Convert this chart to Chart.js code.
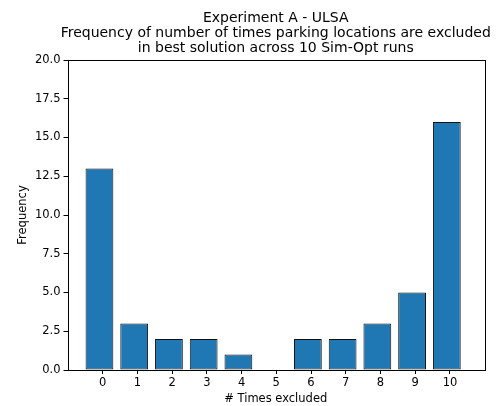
<!DOCTYPE html>
<html>
<head>
<meta charset="utf-8">
<script src="https://cdn.jsdelivr.net/npm/chart.js@4.4.0/dist/chart.umd.min.js"></script>
<style>
  html, body { margin: 0; padding: 0; background: #fff; }
  #wrap { width: 499px; height: 406px; }
</style>
</head>
<body>
<div id="wrap"><canvas id="grafico"></canvas></div>
<script>
const timesExcluded = [0, 1, 2, 3, 4, 5, 6, 7, 8, 9, 10];
const frequency = [13, 3, 2, 2, 1, 0, 2, 2, 3, 5, 16];
const yTicks = [0, 2.5, 5, 7.5, 10, 12.5, 15, 17.5, 20];
const titleLines = ['Experiment A - ULSA',
                    'Frequency of number of times parking locations are excluded',
                    'in best solution across 10 Sim-Opt runs'];
// bars in the original sit slightly left of their tick (histogram bin alignment)
const barShift = -0.09;

// matplotlib-style box around the plot area, title centred over the axes
const frameBox = {
    id: 'frameBox',
    afterDraw(chart) {
        const a = chart.chartArea;
        const c = chart.ctx;
        c.save();
        c.strokeStyle = '#000';
        c.lineWidth = 1;
        c.strokeRect(Math.round(a.left) + 0.5, Math.round(a.top) + 0.5,
                     Math.round(a.right - a.left), Math.round(a.bottom - a.top));
        c.fillStyle = '#000';
        c.font = '14px "DejaVu Sans"';
        c.textAlign = 'center';
        c.textBaseline = 'middle';
        const cx = (a.left + a.right) / 2;
        titleLines.forEach((line, i) => {
            c.fillText(line, cx, a.top - 42 + i * 15);
        });
        c.restore();
    }
};

Chart.defaults.font.family = 'DejaVu Sans';
Chart.defaults.color = '#000';

const ctx = document.getElementById('grafico');
new Chart(ctx, {
    type: 'bar',
    data: {
        datasets: [{
            data: timesExcluded.map((t, i) => ({ x: t + barShift, y: frequency[i] })),
            backgroundColor: '#1f77b4',
            borderColor: '#111',
            borderWidth: 1,
            borderSkipped: false,
            barPercentage: 0.8,
            categoryPercentage: 1
        }]
    },
    options: {
        responsive: true,
        maintainAspectRatio: false,
        animation: false,
        layout: { padding: { left: 0, right: 15, top: 60, bottom: 0 } },
        plugins: {
            legend: { display: false },
            tooltip: { enabled: false },
            title: { display: false }
        },
        scales: {
            x: {
                type: 'linear',
                offset: false,
                min: -1.01,
                max: 10.98,
                afterBuildTicks: (scale) => {
                    scale.ticks = timesExcluded.map(v => ({ value: v }));
                },
                afterFit: (scale) => { scale.height = 36; },
                ticks: {
                    autoSkip: false,
                    maxRotation: 0,
                    font: { size: 11.5 },
                    padding: 2,
                    callback: (value) => String(value)
                },
                grid: { drawOnChartArea: false, offset: false, tickLength: 4, color: '#000' },
                border: { display: false },
                title: {
                    display: true,
                    text: '# Times excluded',
                    font: { size: 11.5 },
                    padding: 0
                }
            },
            y: {
                min: 0,
                max: 20,
                afterBuildTicks: (scale) => {
                    scale.ticks = yTicks.map(v => ({ value: v }));
                },
                afterFit: (scale) => { scale.width = 67.5; },
                ticks: {
                    font: { size: 11.5 },
                    padding: 3,
                    callback: (value) => value.toFixed(1)
                },
                grid: { drawOnChartArea: false, tickLength: 4, color: '#000' },
                border: { display: false },
                title: {
                    display: true,
                    text: 'Frequency',
                    font: { size: 11.5 },
                    padding: { top: 16, bottom: 0 }
                }
            }
        }
    },
    plugins: [frameBox]
});
</script>
</body>
</html>
